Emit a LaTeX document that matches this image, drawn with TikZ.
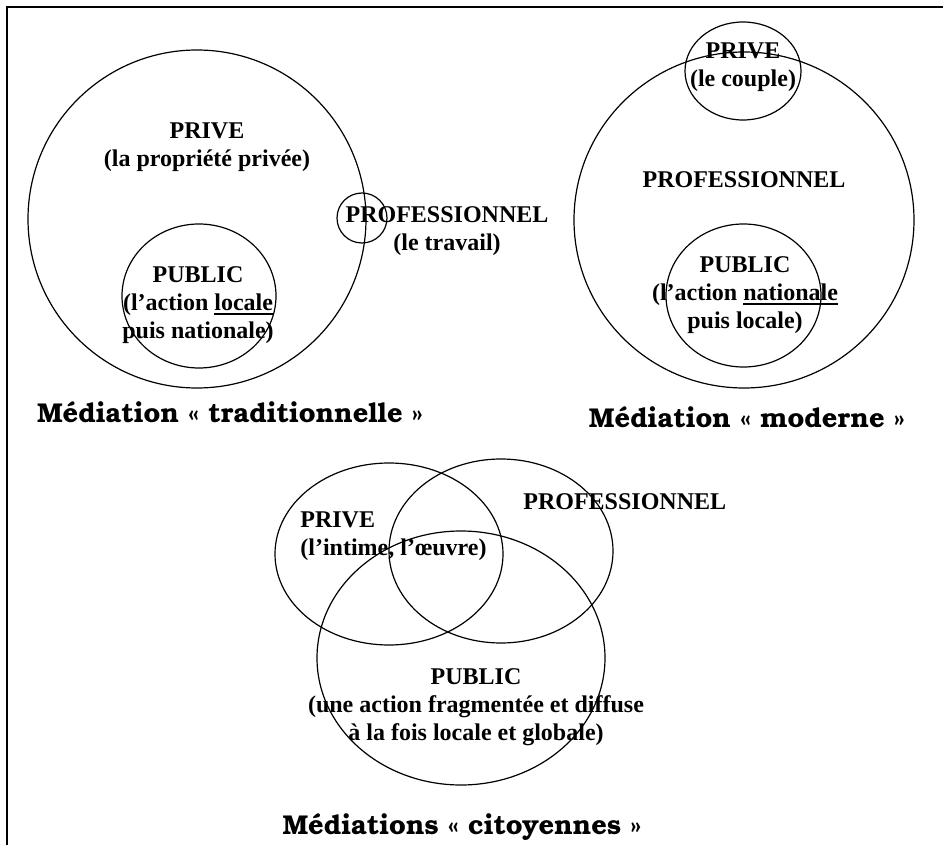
\documentclass[tikz,border=0pt]{standalone}
\usepackage{fontspec}
\setmainfont{Liberation Serif}
\newfontfamily\legendefont{TeX Gyre Bonum}
\usetikzlibrary{shapes.geometric}
\newcommand{\souligne}[1]{\setbox0\hbox{#1}\rlap{\rule[-2.3pt]{\wd0}{1pt}}\box0}
\tikzset{
  zone/.style      = {draw, ellipse, line width=0.6pt, inner sep=0pt},
  etiquette/.style = {font=\fontsize{12}{14}\selectfont\bfseries, align=center, inner sep=0pt},
  legende/.style   = {font=\legendefont\fontsize{13.6}{16}\selectfont\bfseries, inner sep=0pt},
}
\begin{document}
\begin{tikzpicture}[x=0.5pt,y=-0.5pt]
\useasboundingbox (0,0) rectangle (943,845);
\draw[line width=0.9pt] (7,845) -- (7,7) -- (943,7);
% médiation traditionnelle
\node[zone,minimum width=169pt,minimum height=169pt] (tradPrive) at (197,219) {};
\node[zone,minimum width=77pt,minimum height=72pt] (tradPublic) at (199,296) {};
\node[zone,minimum width=25pt,minimum height=25pt] (tradPro) at (362,218) {};
\node[etiquette] (tradPriveLbl) at (207,147) {PRIVE\\(la propriété privée)};
\node[etiquette] (tradPublicLbl) at (198,305) {PUBLIC\\(l’action \souligne{locale}\\puis nationale)};
\node[etiquette] (tradProLbl) at (447,231) {PROFESSIONNEL\\(le travail)};
\node[legende] (tradLegende) at (230,412) {Médiation « traditionnelle »};
% médiation moderne
\node[zone,minimum width=170pt,minimum height=168pt] (modPro) at (744,220) {};
\node[zone,minimum width=58pt,minimum height=49pt] (modPrive) at (743,71) {};
\node[zone,minimum width=77.5pt,minimum height=71.5pt] (modPublic) at (743.5,295.5) {};
\node[etiquette] (modPriveLbl) at (743,67) {PRIVE\\(le couple)};
\node[etiquette] (modProLbl) at (744,180) {PROFESSIONNEL};
\node[etiquette] (modPublicLbl) at (745,295) {PUBLIC\\(l’action \souligne{nationale}\\puis locale)};
\node[legende] (modLegende) at (747,417) {Médiation « moderne »};
% médiations citoyennes
\node[zone,minimum width=114pt,minimum height=91pt] (citPrive) at (389,554) {};
\node[zone,minimum width=112pt,minimum height=92pt] (citPro) at (501,551) {};
\node[zone,minimum width=144pt,minimum height=127pt] (citPublic) at (461,658) {};
\node[etiquette,align=left,anchor=west] (citPriveLbl) at (300,536) {PRIVE\\(l’intime, l’œuvre)};
\node[etiquette,anchor=west] (citProLbl) at (523,502) {PROFESSIONNEL};
\node[etiquette] (citPublicLbl) at (476,707) {PUBLIC\\(une action fragmentée et diffuse\\à la fois locale et globale)};
\node[legende] (citLegende) at (462,827) {Médiations « citoyennes »};
\end{tikzpicture}
\end{document}
